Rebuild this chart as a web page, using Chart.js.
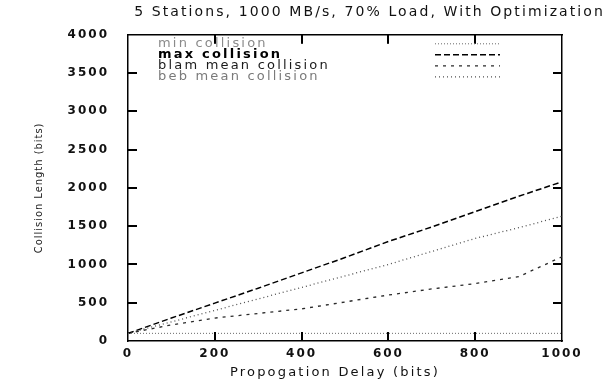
<!DOCTYPE html>
<html lang="en">
<head>
    <meta charset="UTF-8">
    <title>Collision Length vs Propogation Delay</title>
    <script src="https://cdn.jsdelivr.net/npm/chart.js@4.4.1/dist/chart.umd.min.js"></script>
    <style>
        * {
            margin: 0;
            padding: 0;
            box-sizing: border-box;
        }

        body {
            background: #fff;
        }

        .chart-wrap {
            position: relative;
            width: 615px;
            height: 383px;
        }
    </style>
</head>
<body>
    <div class="chart-wrap">
        <canvas id="collisionChart"></canvas>
    </div>

    <script>
        // Values
        const delays = [0, 100, 200, 300, 400, 500, 600, 700, 800, 900, 1000];
        const minCollision = [100, 100, 100, 100, 100, 100, 100, 100, 100, 100, 100];
        const maxCollision = [100, 300, 495, 690, 890, 1090, 1300, 1490, 1690, 1890, 2080];
        const blamMean = [100, 210, 300, 360, 420, 510, 600, 680, 750, 840, 1100];
        const bebMean = [100, 250, 400, 550, 700, 850, 1000, 1170, 1340, 1480, 1630];

        const seriesNames = ['min collision', 'max collision', 'blam mean collision', 'beb mean collision'];
        const xTicks = [0, 200, 400, 600, 800, 1000];
        const yTicks = [0, 500, 1000, 1500, 2000, 2500, 3000, 3500, 4000];

        const toPoints = (ys) => delays.map((x, i) => ({ x: x, y: ys[i] }));

        const lineStyles = [
            { color: '#6a6a6a', dash: [1, 2], width: 1 },
            { color: '#000', dash: [6, 3], width: 1.5 },
            { color: '#2a2a2a', dash: [3, 5], width: 1.3 },
            { color: '#505050', dash: [1, 3], width: 1.3 }
        ];
        const legendText = [
            { color: '#8a8a8a', weight: 'normal' },
            { color: '#000', weight: 'bold' },
            { color: '#1a1a1a', weight: 'normal' },
            { color: '#7a7a7a', weight: 'normal' }
        ];

        const allSeries = [minCollision, maxCollision, blamMean, bebMean];

        // the old printout is set wide, so space the glyphs out a bit
        function spaced(fn, spacing, dx) {
            return function () {
                const ctx = this.ctx;
                const prev = ctx.letterSpacing;
                ctx.save();
                ctx.translate(dx || 0, 0);
                ctx.letterSpacing = spacing;
                fn.call(this);
                ctx.restore();
                ctx.letterSpacing = prev;
            };
        }

        function wrapScale(s, labelSpacing, titleSpacing, titleDx) {
            if (s._spaced) return;
            s.drawLabels = spaced(s.drawLabels, labelSpacing, 0);
            s.drawTitle = spaced(s.drawTitle, titleSpacing, titleDx);
            s._spaced = true;
        }

        // gnuplot style: key top left inside the plot, ticks pointing inwards
        const gnuplotFrame = {
            id: 'gnuplotFrame',
            beforeDraw(chart) {
                chart.ctx.letterSpacing = '2.1px';
            },
            afterDraw(chart) {
                const ctx = chart.ctx;
                const area = chart.chartArea;
                const xs = chart.scales.x;
                const ys = chart.scales.y;
                ctx.save();
                ctx.fillStyle = '#000';
                // tick marks as small filled bars along each border
                for (const v of yTicks.slice(1, -1)) {
                    const py = Math.round(ys.getPixelForValue(v)) - 1;
                    ctx.fillRect(area.left, py, 9, 2);
                    ctx.fillRect(area.right - 9, py, 9, 2);
                }
                for (const v of xTicks.slice(1, -1)) {
                    const px = Math.round(xs.getPixelForValue(v)) - 1;
                    ctx.fillRect(px, area.bottom - 9, 2, 9);
                    ctx.fillRect(px, area.top, 2, 9);
                }

                ctx.letterSpacing = '2.2px';
                ctx.textBaseline = 'middle';
                ctx.textAlign = 'left';
                chart.data.datasets.forEach((ds, i) => {
                    const ty = area.top + 9 + i * 11;
                    ctx.font = legendText[i].weight + ' 13px "DejaVu Sans"';
                    ctx.fillStyle = legendText[i].color;
                    ctx.fillText(ds.label, area.left + 30, ty);
                    ctx.strokeStyle = ds.borderColor;
                    ctx.lineWidth = ds.borderWidth;
                    ctx.setLineDash(ds.borderDash);
                    ctx.beginPath();
                    ctx.moveTo(area.right - 127, ty);
                    ctx.lineTo(area.right - 62, ty);
                    ctx.stroke();
                });
                ctx.restore();
                ctx.letterSpacing = '0px';
            }
        };

        const plainNumber = (v) => String(v);

        const noGrid = { drawOnChartArea: false, drawTicks: false };
        const frame = { display: true, color: '#000', width: 1.5 };

        new Chart(document.getElementById('collisionChart'), {
            type: 'line',
            data: {
                datasets: allSeries.map((ys, i) => ({
                    label: seriesNames[i],
                    data: toPoints(ys),
                    borderColor: lineStyles[i].color,
                    borderDash: lineStyles[i].dash,
                    borderWidth: lineStyles[i].width,
                    pointRadius: 0,
                    tension: 0,
                    fill: false
                }))
            },
            options: {
                responsive: true,
                maintainAspectRatio: false,
                animation: false,
                layout: {
                    padding: { left: 20, right: 10, top: 1, bottom: 0 }
                },
                plugins: {
                    legend: { display: false },
                    tooltip: { enabled: false },
                    title: {
                        display: true,
                        text: '5 Stations, 1000 MB/s, 70% Load, With Optimization',
                        align: 'end',
                        color: '#111',
                        font: { family: '"DejaVu Sans"', size: 14, weight: 'normal' },
                        padding: { top: 3, bottom: 14 }
                    }
                },
                scales: {
                    x: {
                        type: 'linear',
                        min: 0,
                        max: 1000,
                        afterBuildTicks: (s) => { s.ticks = xTicks.map(v => ({ value: v })); },
                        ticks: {
                            color: '#111',
                            padding: 6,
                            maxRotation: 0,
                            callback: plainNumber,
                            font: { family: '"DejaVu Sans"', size: 12, weight: 'bold' }
                        },
                        grid: noGrid,
                        border: frame,
                        title: {
                            display: true,
                            text: 'Propogation Delay (bits)',
                            color: '#111',
                            font: { family: '"DejaVu Sans"', size: 13 },
                            padding: { top: 0, bottom: 3 }
                        },
                        afterFit: (s) => {
                            s.height = 42;
                            wrapScale(s, '2px', '2.2px', -10);
                        }
                    },
                    xTop: {
                        type: 'linear',
                        position: 'top',
                        min: 0,
                        max: 1000,
                        ticks: { display: false },
                        grid: noGrid,
                        border: frame,
                        afterFit: (s) => { s.height = 0; }
                    },
                    y: {
                        min: 0,
                        max: 4000,
                        afterBuildTicks: (s) => { s.ticks = yTicks.map(v => ({ value: v })); },
                        ticks: {
                            color: '#111',
                            padding: 19,
                            callback: plainNumber,
                            font: { family: '"DejaVu Sans"', size: 12, weight: 'bold' }
                        },
                        grid: noGrid,
                        border: frame,
                        title: {
                            display: true,
                            text: 'Collision Length (bits)',
                            color: '#222',
                            font: { family: '"Liberation Sans Narrow", "DejaVu Sans Condensed", "DejaVu Sans"', size: 11 },
                            padding: { top: 13, bottom: 0 }
                        },
                        afterFit: (s) => {
                            s.width = 108;
                            wrapScale(s, '2px', '1px', 0);
                        }
                    },
                    yRight: {
                        position: 'right',
                        min: 0,
                        max: 4000,
                        ticks: { display: false },
                        grid: noGrid,
                        border: frame,
                        afterFit: (s) => { s.width = 43; }
                    }
                }
            },
            plugins: [gnuplotFrame]
        });
    </script>
</body>
</html>
